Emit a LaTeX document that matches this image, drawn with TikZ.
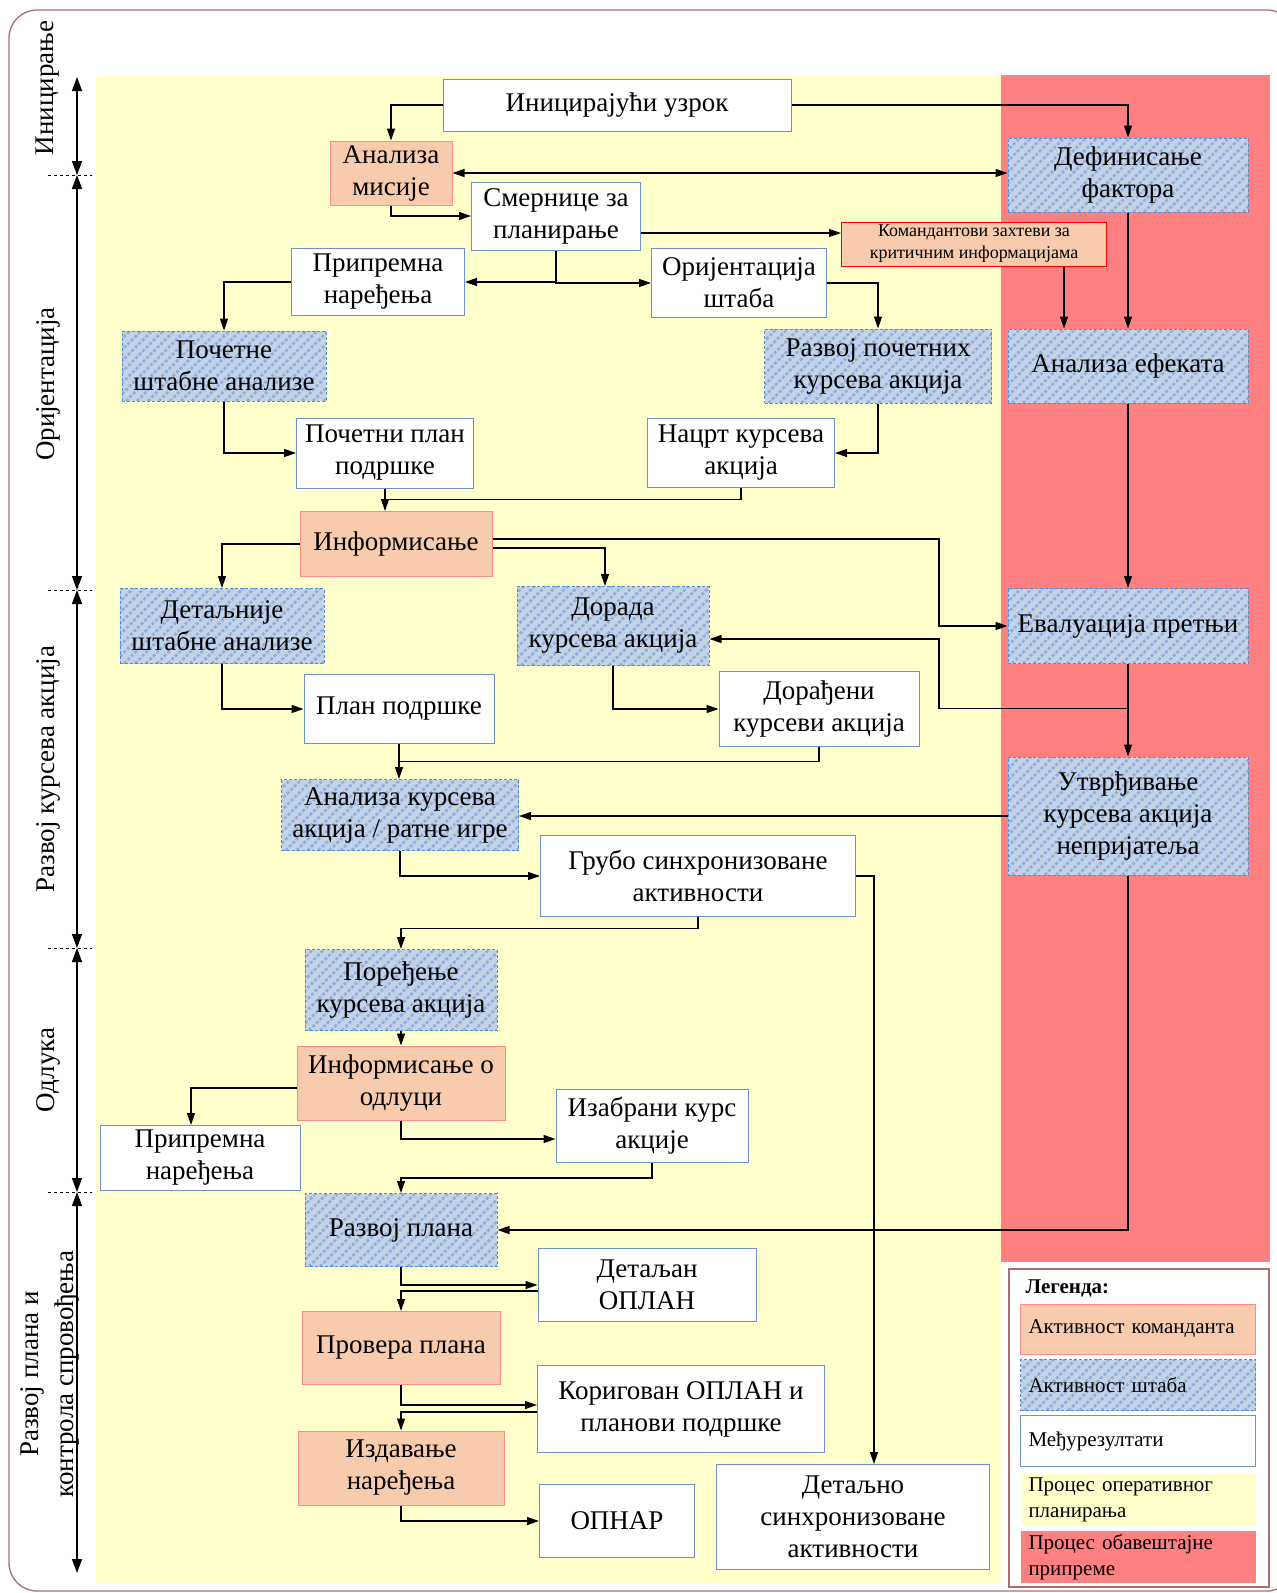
\documentclass[tikz,border=0pt]{standalone}
\usepackage{fontspec}
\setmainfont{Liberation Serif}
\usepackage{tikz}
\usetikzlibrary{arrows.meta, calc}
\definecolor{PlanYellow}{RGB}{255,255,204}
\definecolor{IntelRed}{RGB}{255,128,128}
\definecolor{CmdFill}{RGB}{248,203,173}
\definecolor{CmdLine}{RGB}{255,140,140}
\definecolor{StaffFill}{RGB}{197,210,228}
\definecolor{StaffStripe}{RGB}{140,175,228}
\definecolor{StaffLine}{RGB}{80,140,220}
\definecolor{ResLine}{RGB}{110,145,200}
\definecolor{FrameBrown}{RGB}{170,110,110}
\newcommand{\boxfont}{\fontsize{27}{32}\selectfont}
\newcommand{\smallboxfont}{\fontsize{18}{22}\selectfont}
\newcommand{\legfont}{\fontsize{21}{26}\selectfont}

\begin{document}
\begin{tikzpicture}[x=1pt, y=-1pt,
          base/.style={rectangle, inner sep=2pt, align=center, font=\boxfont, line width=1pt},
          cmdbox/.style={base, fill=CmdFill, draw=CmdLine},
          stripes/.style={path picture={
              \foreach \k in {0,...,40} {
                \draw[StaffStripe, line width=2.6pt]
                  ($(path picture bounding box.south west)+(\k*11-150,0)$) -- ++(170,-170);
              }}},
          staffbox/.style={base, fill=StaffFill, stripes, draw=StaffLine, dash pattern=on 3pt off 2pt},
          resbox/.style={base, fill=white, draw=ResLine},
          arr/.style={-{Triangle[length=12pt, width=8pt]}, line width=1.2pt},
          dblarr/.style={{Triangle[length=12pt, width=8pt]}-{Triangle[length=12pt, width=8pt]}, line width=1.2pt},
          axarr/.style={{Triangle[length=14pt, width=10pt]}-{Triangle[length=14pt, width=10pt]}, line width=1.3pt},
          phase/.style={rotate=90, font=\boxfont, align=center},
          legitem/.style={minimum width=235, minimum height=50, text width=219, align=left,
                      font=\legfont, inner xsep=8pt}
        ]
        \useasboundingbox (0,0) rectangle (1277,1593);

        % frame and process areas
        \draw[FrameBrown, line width=1.3pt, rounded corners=28pt] (9,10) rectangle (1295,1591);
        \fill[PlanYellow] (96,75) rectangle (1001,1583);
        \fill[IntelRed] (1001,75) rectangle (1270,1262);

        % phases
        \foreach \ya/\yb in {77/175, 175/590, 590/948, 948/1192, 1192/1573} {
          \draw[axarr] (77,\ya) -- (77,\yb);
        }
        \foreach \ys in {175, 590, 948, 1192} {
          \draw[dashed, line width=1pt] (48,\ys) -- (92,\ys);
        }
        \node[phase] (ph1) at (48,88) {Иницирање};
        \node[phase] (ph2) at (48,384) {Оријентација};
        \node[phase] (ph3) at (48,769) {Развој курсева акција};
        \node[phase] (ph4) at (48,1070) {Одлука};
        \node[phase, font=\fontsize{27}{35}\selectfont] (ph5) at (50,1374)
              {Развој плана и\\контрола спровођења};

        \node[resbox, minimum width=348, minimum height=52] (uzrok) at (617,105)
              {Иницирајући узрок};
        \node[cmdbox, minimum width=122, minimum height=64] (amisije) at (391,173)
              {Анализа\\мисије};
        \node[resbox, minimum width=169, minimum height=68] (smernice) at (556,216)
              {Смернице за\\планирање};
        \node[cmdbox, draw=red, font=\smallboxfont, minimum width=265, minimum height=44] (zahtevi) at (974,244)
              {Командантови захтеви за\\критичним информацијама};
        \node[staffbox, minimum width=240, minimum height=74] (faktori) at (1128,175)
              {Дефинисање\\фактора};
        \node[resbox, minimum width=173, minimum height=67] (pripr1) at (378,282)
              {Припремна\\наређења};
        \node[resbox, minimum width=175, minimum height=69] (orij) at (739,283)
              {Оријентација\\штаба};
        \node[staffbox, minimum width=204, minimum height=70] (pocanal) at (224,366)
              {Почетне\\штабне анализе};
        \node[staffbox, minimum width=227, minimum height=74] (razvpoc) at (878,366)
              {Развој почетних\\курсева акција};
        \node[staffbox, minimum width=240, minimum height=74] (efekti) at (1128,366)
              {Анализа ефеката};
        \node[resbox, minimum width=177, minimum height=70] (pocplan) at (385,453)
              {Почетни план\\подршке};
        \node[resbox, minimum width=187, minimum height=69] (nacrt) at (741,453)
              {Нацрт курсева\\акција};
        \node[cmdbox, minimum width=192, minimum height=65] (inform) at (396,544)
              {Информисање};
        \node[staffbox, minimum width=204, minimum height=75] (detanal) at (222,626)
              {Детаљније\\штабне анализе};
        \node[staffbox, minimum width=192, minimum height=79] (dorada) at (613,626)
              {Дорада\\курсева акција};
        \node[staffbox, minimum width=240, minimum height=75] (evalpr) at (1128,626)
              {Евалуација претњи};
        \node[resbox, minimum width=190, minimum height=69] (plpodr) at (399,709)
              {План подршке};
        \node[resbox, minimum width=200, minimum height=75] (doradjeni) at (819,709)
              {Дорађени\\курсеви акција};
        \node[staffbox, minimum width=240, minimum height=118] (utvr) at (1128,816)
              {Утврђивање\\курсева акција\\непријатеља};
        \node[staffbox, minimum width=237, minimum height=71] (ankurs) at (400,815)
              {Анализа курсева\\акција / ратне игре};
        \node[resbox, minimum width=315, minimum height=81] (grubo) at (698,876)
              {Грубо синхронизоване\\активности};
        \node[staffbox, minimum width=192, minimum height=81] (poredj) at (401,990)
              {Поређење\\курсева акција};
        \node[cmdbox, minimum width=208, minimum height=74] (infodl) at (401,1083)
              {Информисање о\\одлуци};
        \node[resbox, minimum width=192, minimum height=73] (izabr) at (652,1126)
              {Изабрани курс\\акције};
        \node[resbox, minimum width=200, minimum height=65] (pripr2) at (200,1158)
              {Припремна\\наређења};
        \node[staffbox, minimum width=192, minimum height=73] (razvplan) at (401,1230)
              {Развој плана};
        \node[resbox, minimum width=218, minimum height=73] (oplan) at (647,1285)
              {Детаљан\\ОПЛАН};
        \node[cmdbox, minimum width=198, minimum height=73] (provera) at (401,1348)
              {Провера плана};
        \node[resbox, minimum width=287, minimum height=87] (korig) at (681,1409)
              {Коригован ОПЛАН и\\планови подршке};
        \node[cmdbox, minimum width=206, minimum height=74] (izdav) at (401,1468)
              {Издавање\\наређења};
        \node[resbox, minimum width=155, minimum height=73] (opnar) at (617,1521)
              {ОПНАР};
        \node[resbox, minimum width=273, minimum height=105] (detsinh) at (853,1517)
              {Детаљно\\синхронизоване\\активности};

        % initiation and orientation
        \coordinate (s1) at ($(smernice.east)+(0,17)$);
        \coordinate (z1) at ($(zahtevi.south east)+(-43,0)$);
        \draw[arr] (uzrok.west) -| (amisije.north);
        \draw[arr] (uzrok.east) -| (faktori.north);
        \draw[dblarr] (amisije.east) -- (amisije.east -| faktori.west);
        \draw[arr] (amisije.south) |- (smernice.west);
        \draw[arr] (s1) -- (s1 -| zahtevi.west);
        \draw[arr] (smernice.south) |- (pripr1.east);
        \draw[arr] (smernice.south) |- (orij.west);
        \draw[arr] (pripr1.west) -| (pocanal.north);
        \draw[arr] (orij.east) -| (razvpoc.north);
        \draw[arr] (z1) -- (z1 |- efekti.north);
        \draw[arr] (faktori.south) -- (efekti.north);
        \draw[arr] (pocanal.south) |- (pocplan.west);
        \draw[arr] (razvpoc.south) |- (nacrt.east);
        \coordinate (j1) at ($(pocplan.south)!0.5!(pocplan.south |- inform.north)$);
        \draw[line width=1.2pt] (nacrt.south) |- (j1);
        \draw[arr] (pocplan.south) -- (pocplan.south |- inform.north);

        % course of action development
        \coordinate (bus) at (939,0);
        \draw[arr] (inform.west) -| (detanal.north);
        \draw[arr] ($(inform.east)+(0,4)$) -| ($(dorada.north)+(-8,0)$);
        \draw[arr] ($(inform.east)+(0,-5)$) -| (bus |- evalpr.west) -- (evalpr.west);
        \draw[arr] (efekti.south) -- (evalpr.north);
        \draw[arr] (evalpr.south) -- (utvr.north);
        \coordinate (k1) at ($(evalpr.south)!0.48!(utvr.north)$);
        \draw[arr] (k1) -| ($(bus |- dorada.east)+(0,13)$) -- ($(dorada.east)+(0,13)$);
        \draw[arr] (detanal.south) |- (plpodr.west);
        \draw[arr] (dorada.south) |- (doradjeni.west);
        \coordinate (j2) at ($(plpodr.south)!0.5!(plpodr.south |- ankurs.north)$);
        \draw[line width=1.2pt] (doradjeni.south) |- (j2);
        \draw[arr] (plpodr.south) -- (plpodr.south |- ankurs.north);
        \draw[arr] (utvr.west) -- (utvr.west -| ankurs.east);
        \draw[arr] (ankurs.south) |- (grubo.west);
        \coordinate (j3) at ($(grubo.south)!0.35!(grubo.south |- poredj.north)$);
        \draw[arr] (grubo.south) -- (j3) -| (poredj.north);
        \draw[arr] (grubo.east) -| ($(detsinh.north)+(21,0)$);

        % decision
        \draw[arr] (poredj.south) -- (infodl.north);
        \draw[arr] ($(infodl.west)+(0,5)$) -| ($(pripr2.north)+(-9,0)$);
        \draw[arr] (infodl.south) |- ($(izabr.west)+(0,13)$);
        \coordinate (j4) at ($(izabr.south)!0.5!(izabr.south |- razvplan.north)$);
        \draw[arr] (izabr.south) -- (j4) -| (razvplan.north);

        % plan development
        \draw[arr] (utvr.south) |- (razvplan.east);
        \draw[arr] (razvplan.south) |- (oplan.west);
        \draw[arr] ($(oplan.west)+(0,6)$) -| (provera.north);
        \draw[arr] (provera.south) |- ($(korig.west)+(0,-4)$);
        \draw[arr] ($(korig.west)+(0,3)$) -| (izdav.north);
        \draw[arr] (izdav.south) |- (opnar.west);

        % legend
        \node[draw=FrameBrown, line width=1.2pt, fill=white, minimum width=260, minimum height=318,
              inner sep=0pt] (legend) at (1139,1428) {};
        \node[font=\legfont\bfseries, anchor=west] (legtitle) at (1022,1288) {Легенда:};
        \node[cmdbox, legitem] (lg1) at (1138,1329) {Активност команданта};
        \node[staffbox, legitem, minimum height=51] (lg2) at (1138,1385) {Активност штаба};
        \node[resbox, legitem, minimum height=51] (lg3) at (1138,1441) {Међурезултати};
        \node[legitem, fill=PlanYellow, minimum height=52] (lg4) at (1138,1500)
              {Процес оперативног\\планирања};
        \node[legitem, fill=IntelRed, minimum height=51] (lg5) at (1138,1557)
              {Процес обавештајне\\припреме};
      \end{tikzpicture}
\end{document}
